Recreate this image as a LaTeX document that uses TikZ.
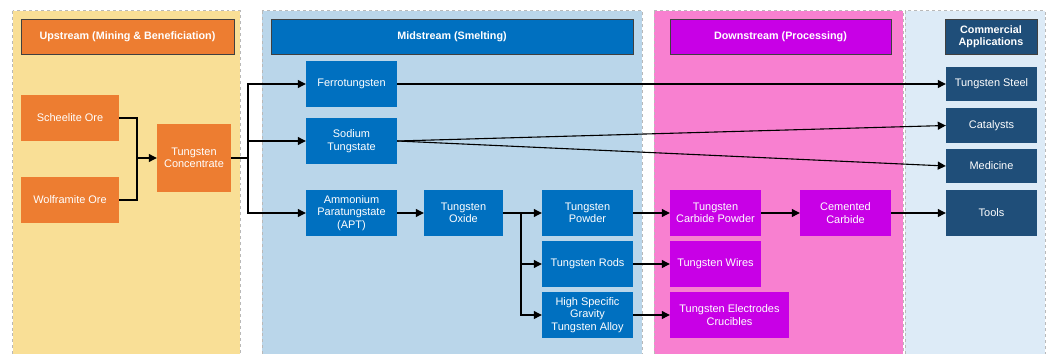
\documentclass[tikz,border=0pt]{standalone}
\usepackage{fontspec}
\setmainfont{Liberation Sans}
\usepackage{tikz}
\usetikzlibrary{arrows.meta,shapes}

\definecolor{upfill}{HTML}{F9DF96}
\definecolor{upbox}{HTML}{ED7D31}
\definecolor{midfill}{HTML}{BAD6EA}
\definecolor{midbox}{HTML}{0070C0}
\definecolor{downfill}{HTML}{F880D0}
\definecolor{downbox}{HTML}{C800E6}
\definecolor{appfill}{HTML}{DDEBF7}
\definecolor{appbox}{HTML}{1F4E79}

\begin{document}
\begin{tikzpicture}[
  box/.style={rectangle,minimum height=46bp,inner sep=1bp,align=center,text=white,
    font=\fontsize{11}{12.5}\selectfont},
  head/.style={rectangle,draw=black!75,line width=0.8bp,minimum height=35bp,inner sep=1bp,
    align=center,text=white,font=\fontsize{10.8}{12}\selectfont\bfseries},
  panel/.style={dashed,draw=gray!55,line width=0.6bp},
  arr/.style={-{Triangle[length=8bp,width=8bp]},line width=1.1bp},
  ln/.style={line width=1.1bp}]
\useasboundingbox (0bp,0bp) rectangle (1050bp,-354bp);
\fill[white] (0bp,0bp) rectangle (1050bp,-354bp);
% the four stages
\draw[panel,fill=upfill] (12.7bp,-10.7bp) rectangle (240bp,-370bp);
\draw[panel,fill=midfill] (262bp,-10.7bp) rectangle (642bp,-370bp);
\draw[panel,fill=downfill] (654bp,-10.7bp) rectangle (903bp,-370bp);
\draw[panel,fill=appfill] (905bp,-10.7bp) rectangle (1045bp,-370bp);

\node (UP) at (127.5bp,-36.5bp)[head,fill=upbox,minimum width=213bp] {Upstream (Mining \& Beneficiation)};
\node (MID) at (452bp,-36.5bp)[head,fill=midbox,minimum width=362bp] {Midstream (Smelting)};
\node (DOWN) at (780.5bp,-36.5bp)[head,fill=downbox,minimum width=221bp] {Downstream (Processing)};
\node (APP) at (991bp,-36.5bp)[head,fill=appbox,minimum width=92bp] {Commercial\\Applications};

% upstream
\node (SO) at (70bp,-118bp)[box,fill=upbox,minimum width=98bp] {Scheelite Ore};
\node (WO) at (70bp,-200bp)[box,fill=upbox,minimum width=98bp] {Wolframite Ore};
\node (TC) at (194bp,-158bp)[box,fill=upbox,minimum width=74bp,minimum height=68bp] {Tungsten\\Concentrate};

% midstream
\node (FT) at (351.5bp,-84bp)[box,fill=midbox,minimum width=91bp] {Ferrotungsten};
\node (ST) at (351.5bp,-141bp)[box,fill=midbox,minimum width=91bp] {Sodium\\Tungstate};
\node (APT) at (351.5bp,-213bp)[box,fill=midbox,minimum width=91bp] {Ammonium\\Paratungstate\\(APT)};
\node (TO) at (463.5bp,-213bp)[box,fill=midbox,minimum width=79bp] {Tungsten\\Oxide};
\node (TP) at (587.5bp,-213bp)[box,fill=midbox,minimum width=91bp] {Tungsten\\Powder};
\node (TR) at (587.5bp,-264bp)[box,fill=midbox,minimum width=91bp] {Tungsten Rods};
\node (HA) at (587.5bp,-315bp)[box,fill=midbox,minimum width=91bp] {High Specific\\Gravity\\Tungsten Alloy};

% downstream
\node (TCP) at (715.5bp,-213bp)[box,fill=downbox,minimum width=91bp] {Tungsten\\Carbide Powder};
\node (CC) at (845.5bp,-213bp)[box,fill=downbox,minimum width=91bp] {Cemented\\Carbide};
\node (TW) at (715.5bp,-264bp)[box,fill=downbox,minimum width=91bp] {Tungsten Wires};
\node (TE) at (729.5bp,-315bp)[box,fill=downbox,minimum width=119bp] {Tungsten Electrodes\\Crucibles};

% applications
\node (TS) at (991.5bp,-84bp)[box,fill=appbox,minimum width=91bp,minimum height=34bp] {Tungsten Steel};
\node (CA) at (991.5bp,-125.5bp)[box,fill=appbox,minimum width=91bp,minimum height=35bp] {Catalysts};
\node (ME) at (991.5bp,-166bp)[box,fill=appbox,minimum width=91bp,minimum height=34bp] {Medicine};
\node (TL) at (991.5bp,-213bp)[box,fill=appbox,minimum width=91bp] {Tools};

\coordinate (j1) at (137bp,-158bp);
\coordinate (j2) at (248bp,-158bp);
\coordinate (j3) at (521bp,-213bp);

\draw [ln] (SO.east) -| (j1);
\draw [ln] (WO.east) -| (j1);
\draw [arr] (j1) -- (TC);
\draw [ln] (TC) -- (j2);
\draw [arr] (j2) |- (FT);
\draw [arr] (j2) |- (ST);
\draw [arr] (j2) |- (APT);
\draw [arr] (APT) -- (TO);
\draw [arr] (TO) -- (TP);
\draw [arr] (j3) |- (TR);
\draw [arr] (j3) |- (HA);
\draw [arr] (FT) -- (TS);
\draw [arr] (ST.east) -- (CA.west);
\draw [arr] (ST.east) -- (ME.west);
\draw [arr] (TP) -- (TCP);
\draw [arr] (TCP) -- (CC);
\draw [arr] (CC) -- (TL);
\draw [arr] (TR) -- (TW);
\draw [arr] (HA) -- (TE.west |- HA);
\end{tikzpicture}
\end{document}
